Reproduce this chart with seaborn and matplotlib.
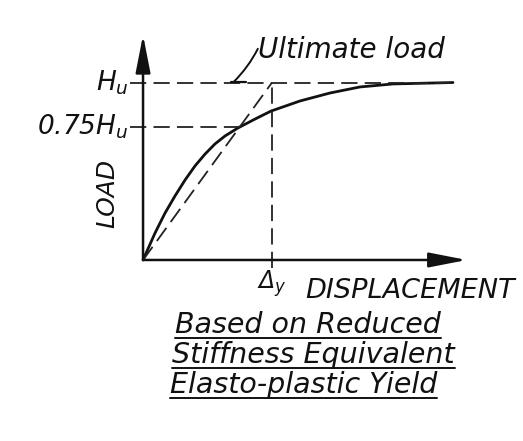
import numpy as np
import pandas as pd
import matplotlib
matplotlib.use('Agg')
import matplotlib.pyplot as plt
import seaborn as sns

# load-displacement curve, displacement in units of Δy, load in units of Hu
disp = [0.0, 0.093, 0.171, 0.248, 0.326, 0.403, 0.481, 0.558, 0.636, 0.736,
        0.868, 0.992, 1.217, 1.450, 1.682, 1.938, 2.403]
load = [0.0, 0.152, 0.265, 0.361, 0.451, 0.530, 0.597, 0.654, 0.699, 0.744,
        0.794, 0.839, 0.896, 0.941, 0.975, 0.992, 1.0]
yield_disp = 1.0        # Δy
ultimate = 1.0          # Hu
frac = 0.75             # 0.75 Hu
x_end = 2.40
x_axis_end = 2.51
y_axis_end = 1.268

sns.set_style('white')
plt.rcParams['font.family'] = ['DejaVu Sans']
plt.rcParams['mathtext.fontset'] = 'custom'
plt.rcParams['mathtext.rm'] = 'DejaVu Sans:italic'
plt.rcParams['mathtext.it'] = 'DejaVu Sans:italic'

fig = plt.figure(figsize=(5.23, 4.41), dpi=100)
ax = fig.add_axes([0, 0, 1, 1])
ax.set_xlim(-1.109, 2.946)
ax.set_ylim(-1.020, 1.465)
ax.axis('off')

ink = '#111111'
df = pd.DataFrame({'disp': disp, 'load': load})
sns.lineplot(data=df, x='disp', y='load', ax=ax, color=ink, lw=2.0)

dash = dict(color='#222222', lw=1.3, dashes=(9, 4))
ax.plot([-0.1, x_end], [ultimate, ultimate], **dash)
ax.plot([-0.1, frac * yield_disp], [frac, frac], **dash)
ax.plot([0, yield_disp], [0, ultimate], **dash)
ax.plot([yield_disp, yield_disp], [-0.045, ultimate], **dash)

# axes arrows
arr = dict(arrowstyle='-|>,head_length=2.3,head_width=0.45', color=ink, lw=1.8,
           shrinkA=0, shrinkB=0)
ax.annotate('', xy=(0, y_axis_end), xytext=(0, 0), arrowprops=arr)
ax.annotate('', xy=(x_axis_end, 0), xytext=(0, 0), arrowprops=arr)

tk = dict(style='italic', color=ink)
ax.text(-0.11, ultimate, r'$H_u$', ha='right', va='center', fontsize=19, color=ink)
ax.text(-0.11, frac, r'$0.75H_u$', ha='right', va='center', fontsize=19, color=ink)
ax.text(-0.279, 0.377, 'LOAD', rotation=90, ha='center', va='center', fontsize=18, **tk)
ax.text(yield_disp, -0.135, r'$\Delta_y$', ha='center', va='center', fontsize=17, color=ink)
ax.text(1.256, -0.175, 'DISPLACEMENT', ha='left', va='center', fontsize=19.5, **tk)

# ultimate load label with leader
ax.text(0.891, 1.183, 'Ultimate load', ha='left', va='center', fontsize=20, **tk)
ax.annotate('', xy=(0.705, ultimate + 0.005), xytext=(0.89, 1.19),
            arrowprops=dict(arrowstyle='-', color=ink, lw=1.4, shrinkA=0, shrinkB=0,
                            connectionstyle='arc3,rad=-0.08'))
ax.plot([0.68, 0.80], [ultimate + 0.005, ultimate + 0.005], color=ink, lw=1.6)

# underlined caption
lines = ['Based on Reduced', 'Stiffness Equivalent', 'Elasto-plastic Yield']
lefts = [0.248, 0.225, 0.21]
fig.canvas.draw()
for i, s in enumerate(lines):
    yy = -0.366 - i * 0.169
    t = ax.text(lefts[i], yy, s, ha='left', va='center', fontsize=20.5, **tk)
    fig.canvas.draw()
    bb = t.get_window_extent().transformed(ax.transData.inverted())
    ax.plot([bb.x0, bb.x1], [yy - 0.075, yy - 0.075], color=ink, lw=1.4)

fig.savefig('out.png', dpi=100)
